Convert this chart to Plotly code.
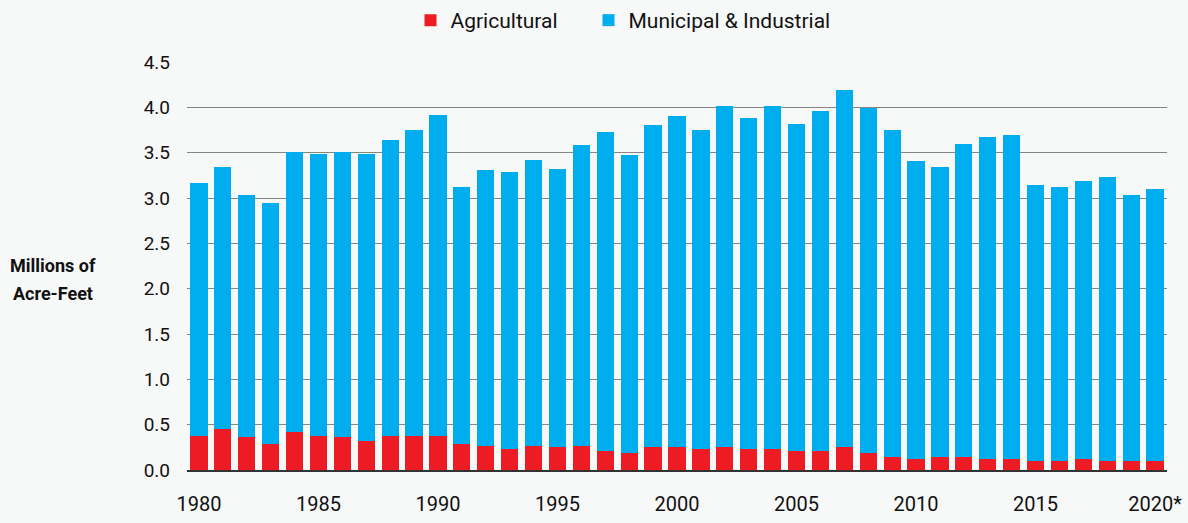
import plotly.graph_objects as go

years = list(range(1980, 2021))

agricultural = [0.38, 0.45, 0.36, 0.29, 0.42, 0.38, 0.36, 0.32, 0.38, 0.38,
                0.38, 0.29, 0.27, 0.23, 0.27, 0.25, 0.27, 0.21, 0.19, 0.25,
                0.25, 0.23, 0.25, 0.23, 0.23, 0.21, 0.21, 0.25, 0.19, 0.14,
                0.12, 0.14, 0.14, 0.12, 0.12, 0.10, 0.10, 0.12, 0.10, 0.10,
                0.10]

municipal_industrial = [2.78, 2.89, 2.67, 2.65, 3.09, 3.11, 3.15, 3.17, 3.26, 3.37,
                        3.54, 2.83, 3.04, 3.06, 3.15, 3.07, 3.31, 3.52, 3.28, 3.55,
                        3.65, 3.52, 3.76, 3.65, 3.78, 3.61, 3.75, 3.94, 3.80, 3.61,
                        3.29, 3.20, 3.46, 3.55, 3.57, 3.04, 3.02, 3.07, 3.13, 2.93,
                        3.00]

x_tick_vals = [1980, 1985, 1990, 1995, 2000, 2005, 2010, 2015, 2020]
x_tick_text = ["1980", "1985", "1990", "1995", "2000", "2005", "2010", "2015", "2020*"]
y_tick_vals = [0, 0.5, 1.0, 1.5, 2.0, 2.5, 3.0, 3.5, 4.0, 4.5]
y_tick_text = ["0.0", "0.5", "1.0", "1.5", "2.0", "2.5", "3.0", "3.5", "4.0", "4.5"]
y_title_lines = ["Millions of", "Acre-Feet"]

FONT = "Roboto, 'Liberation Sans', Arial, sans-serif"
RED = "#ED1C24"
BLUE = "#00AEEF"
BG = "#F7F8F8"
TEXT = "#111111"

fig = go.Figure()
fig.add_trace(go.Bar(x=years, y=agricultural, name="Agricultural",
                     legendwidth=133,
                     marker=dict(color=RED, line=dict(width=0))))
fig.add_trace(go.Bar(x=years, y=municipal_industrial, name="Municipal & Industrial",
                     marker=dict(color=BLUE, line=dict(width=0))))

fig.update_layout(
    width=1188, height=523,
    barmode="stack", bargap=0.28,
    paper_bgcolor=BG, plot_bgcolor=BG,
    margin=dict(l=187, r=21, t=62, b=53, autoexpand=False),
    font=dict(family=FONT, color=TEXT),
    showlegend=True,
    legend=dict(orientation="h", traceorder="normal",
                xref="container", yref="container",
                x=410.5 / 1188, xanchor="left", y=1.0, yanchor="top",
                font=dict(size=21, color=TEXT),
                bgcolor="rgba(0,0,0,0)", itemclick=False, itemdoubleclick=False),
    xaxis=dict(range=[1979.5, 2020.5], tickmode="array",
               tickvals=x_tick_vals, ticktext=x_tick_text,
               showgrid=False, zeroline=False, automargin=False,
               showline=True, linecolor="#333333", linewidth=1.5,
               ticks="", ticklabelstandoff=15,
               tickfont=dict(size=20, color=TEXT)),
    yaxis=dict(range=[0, 4.5], tickmode="array",
               tickvals=y_tick_vals, ticktext=y_tick_text,
               showgrid=True, gridcolor="#858585", gridwidth=1,
               zeroline=False, showline=False, ticks="", automargin=False,
               ticklabelstandoff=16,
               tickfont=dict(size=19, color=TEXT)),
)

for line, ypix in zip(y_title_lines, [265, 293]):
    fig.add_annotation(text="<b>" + line + "</b>", xref="paper", yref="paper",
                       x=(52.5 - 187) / 980, y=(470 - ypix) / 408,
                       showarrow=False, xanchor="center", yanchor="middle",
                       font=dict(size=18, family=FONT, color=TEXT))

fig.write_html("out.html", config={"displayModeBar": False},
               post_script="document.body.style.margin='0';")
